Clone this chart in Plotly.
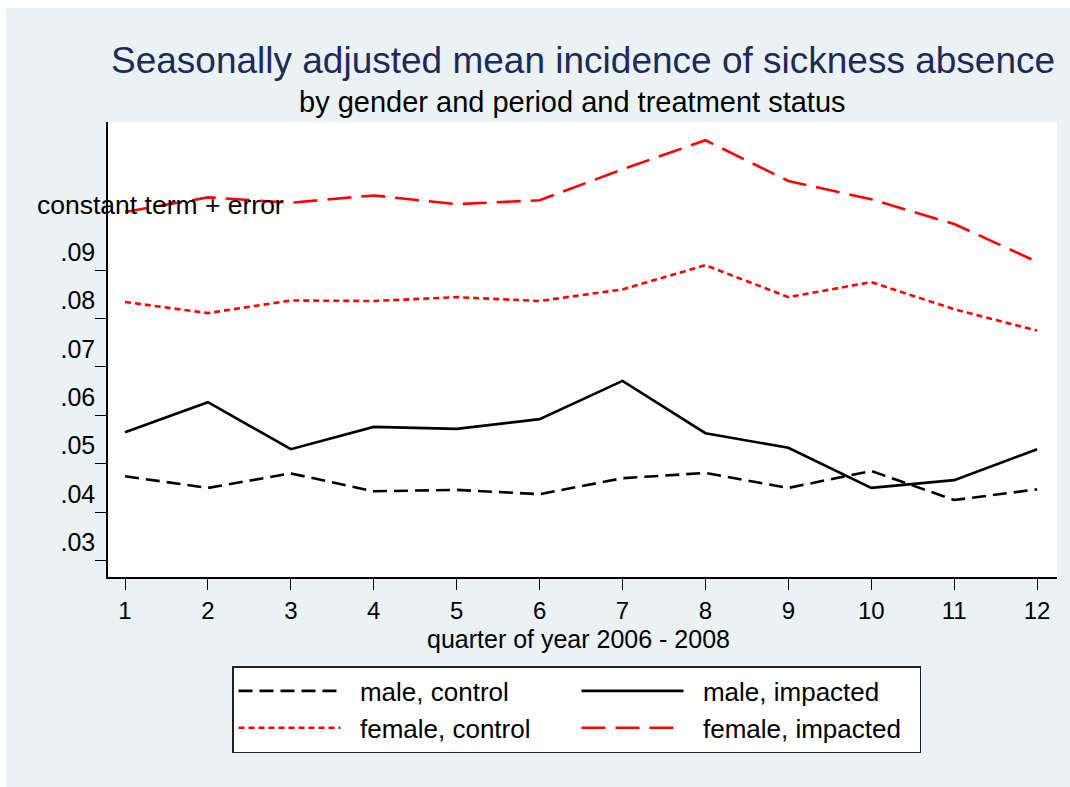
import plotly.graph_objects as go

quarters = list(range(1, 13))
male_control = [0.0474, 0.0450, 0.0480, 0.0443, 0.0446, 0.0437, 0.0470, 0.0481, 0.0450, 0.0485, 0.0425, 0.0447]
male_impacted = [0.0565, 0.0627, 0.0530, 0.0576, 0.0572, 0.0592, 0.0671, 0.0563, 0.0533, 0.0450, 0.0466, 0.0530]
female_control = [0.0834, 0.0811, 0.0837, 0.0836, 0.0844, 0.0836, 0.0860, 0.0910, 0.0844, 0.0875, 0.0819, 0.0775]
female_impacted = [0.1020, 0.1050, 0.1039, 0.1054, 0.1036, 0.1044, 0.1108, 0.1168, 0.1084, 0.1046, 0.0995, 0.0917]
y_ticks = [0.03, 0.04, 0.05, 0.06, 0.07, 0.08, 0.09]
y_tick_labels = [".03", ".04", ".05", ".06", ".07", ".08", ".09"]
y_grid = [0.04, 0.05, 0.06, 0.07, 0.08, 0.09]

W, H = 1070, 787
# plot area in page pixels
L, R, T, B = 108, 1057, 122, 577
FONT = "Liberation Sans, Arial, sans-serif"
YR = [0.0266, 0.12057]
NB = "\u00a0\u00a0"


def px_x(px):
    return (px - L) / (R - L)


def px_y(py):
    return (B - py) / (B - T)


fig = go.Figure()
fig.add_trace(go.Scatter(x=quarters, y=male_control, mode="lines", name=NB + "male, control",
                         line=dict(color="black", width=2.6, dash="14px,7px")))
fig.add_trace(go.Scatter(x=quarters, y=male_impacted, mode="lines", name=NB + "male, impacted",
                         line=dict(color="black", width=2.6)))
fig.add_trace(go.Scatter(x=quarters, y=female_control, mode="lines", name=NB + "female, control",
                         line=dict(color="#FF0000", width=2.6, dash="6px,4px")))
fig.add_trace(go.Scatter(x=quarters, y=female_impacted, mode="lines", name=NB + "female, impacted",
                         line=dict(color="#FF0000", width=2.6, dash="24px,10px")))

fig.update_layout(
    width=W, height=H,
    margin=dict(l=L, r=W - R, t=T, b=H - B, pad=0),
    paper_bgcolor="#EAF2F3",
    plot_bgcolor="white",
    font=dict(family=FONT, color="black", size=26),
    showlegend=True,
    legend=dict(
        orientation="h",
        x=px_x(232), xanchor="left",
        y=px_y(666), yanchor="top",
        bgcolor="white", bordercolor="#222222", borderwidth=1.5,
        font=dict(size=26, family=FONT, color="black"),
        itemwidth=102,
        entrywidth=226,
        traceorder="normal",
    ),
    xaxis=dict(
        range=[0.795, 12.24],
        tickmode="array", tickvals=quarters, ticktext=[str(q) for q in quarters],
        ticks="outside", ticklen=11, tickwidth=1.2, tickcolor="black",
        showline=True, linecolor="black", linewidth=1.5,
        showgrid=False, zeroline=False,
        tickfont=dict(size=24),
    ),
    yaxis=dict(
        range=YR,
        tickmode="array", tickvals=y_ticks, ticktext=y_tick_labels,
        ticks="outside", ticklen=11, tickwidth=1.2, tickcolor="black",
        showline=True, linecolor="black", linewidth=1.5,
        showgrid=False,
        zeroline=False,
        tickfont=dict(size=25),
        ticklabelshift=-18,
        ticklabelstandoff=-5,
    ),
    yaxis2=dict(
        range=YR, overlaying="y", side="left",
        tickmode="array", tickvals=y_grid,
        showticklabels=False, ticks="",
        showline=False, zeroline=False,
        showgrid=True, gridcolor="#EAF2F3", gridwidth=2.5,
    ),
)

fig.add_annotation(text="Seasonally adjusted mean incidence of sickness absence",
                   xref="paper", yref="paper", x=px_x(583), y=px_y(60),
                   xanchor="center", yanchor="middle", showarrow=False,
                   font=dict(size=37, color="#1C2B5A", family=FONT))
fig.add_annotation(text="by gender and period and treatment status",
                   xref="paper", yref="paper", x=px_x(572), y=px_y(102),
                   xanchor="center", yanchor="middle", showarrow=False,
                   font=dict(size=29, color="black", family=FONT))
fig.add_annotation(text="constant term + error",
                   xref="paper", yref="paper", x=px_x(35), y=px_y(205),
                   xanchor="left", yanchor="middle", showarrow=False,
                   font=dict(size=26.5, color="black", family=FONT))
fig.add_annotation(text="quarter of year 2006 - 2008",
                   xref="paper", yref="paper", x=px_x(578), y=px_y(639),
                   xanchor="center", yanchor="middle", showarrow=False,
                   font=dict(size=25, color="black", family=FONT))

# thin white outer border (top and left) as in the reference
fig.add_shape(type="rect", xref="paper", yref="paper",
              x0=px_x(0), x1=px_x(W), y0=px_y(8), y1=px_y(0),
              fillcolor="white", line=dict(width=0), layer="below")
fig.add_shape(type="rect", xref="paper", yref="paper",
              x0=px_x(0), x1=px_x(6), y0=px_y(H), y1=px_y(0),
              fillcolor="white", line=dict(width=0), layer="below")

fig.write_html("out.html", config={"displayModeBar": False},
               post_script="document.body.style.margin='0';document.body.style.overflow='hidden';")
